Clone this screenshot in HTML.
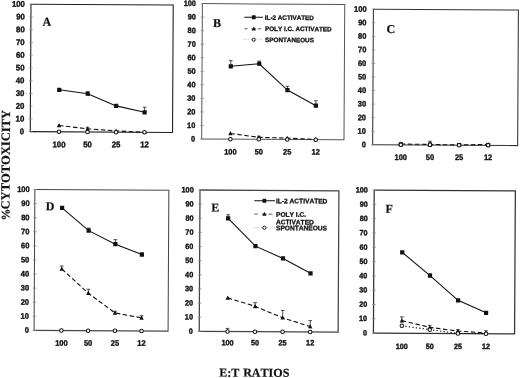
<!DOCTYPE html>
<html><head><meta charset="utf-8"><title>Figure</title>
<style>
html,body{margin:0;padding:0;background:#fff;}
body{width:520px;height:378px;overflow:hidden;}
svg{display:block;}
text{font-kerning:none;}
.tk{font-family:"Liberation Sans",sans-serif;font-weight:bold;fill:#111;stroke:#111;stroke-width:0.35px;}
.pl{font-family:"Liberation Serif",serif;font-weight:bold;font-size:12px;fill:#111;stroke:#111;stroke-width:0.2px;}
.lg{font-family:"Liberation Sans",sans-serif;font-weight:bold;fill:#111;stroke:#111;stroke-width:0.3px;}
.ax{font-family:"Liberation Serif",serif;font-weight:bold;fill:#111;stroke:#111;stroke-width:0.2px;}
</style></head><body>
<svg width="520" height="378" viewBox="0 0 520 378">
<rect width="520" height="378" fill="#fff"/>
<g transform="rotate(0.3151)">
<g id="panelA">
<rect x="31.0" y="4.1" width="142.25" height="127.40" fill="none" stroke="#222" stroke-width="1.1"/>
<line x1="29.40" y1="131.50" x2="33.20" y2="131.50" stroke="#888" stroke-width="0.7"/>
<text transform="translate(24.90 134.16) scale(1 1.06)" text-anchor="end" class="tk" font-size="7.8">0</text>
<line x1="29.40" y1="118.76" x2="33.20" y2="118.76" stroke="#888" stroke-width="0.7"/>
<text transform="translate(24.90 121.42) scale(1 1.06)" text-anchor="end" class="tk" font-size="7.8">10</text>
<line x1="29.40" y1="106.02" x2="33.20" y2="106.02" stroke="#888" stroke-width="0.7"/>
<text transform="translate(24.90 108.68) scale(1 1.06)" text-anchor="end" class="tk" font-size="7.8">20</text>
<line x1="29.40" y1="93.28" x2="33.20" y2="93.28" stroke="#888" stroke-width="0.7"/>
<text transform="translate(24.90 95.94) scale(1 1.06)" text-anchor="end" class="tk" font-size="7.8">30</text>
<line x1="29.40" y1="80.54" x2="33.20" y2="80.54" stroke="#888" stroke-width="0.7"/>
<text transform="translate(24.90 83.20) scale(1 1.06)" text-anchor="end" class="tk" font-size="7.8">40</text>
<line x1="29.40" y1="67.80" x2="33.20" y2="67.80" stroke="#888" stroke-width="0.7"/>
<text transform="translate(24.90 70.46) scale(1 1.06)" text-anchor="end" class="tk" font-size="7.8">50</text>
<line x1="29.40" y1="55.06" x2="33.20" y2="55.06" stroke="#888" stroke-width="0.7"/>
<text transform="translate(24.90 57.72) scale(1 1.06)" text-anchor="end" class="tk" font-size="7.8">60</text>
<line x1="29.40" y1="42.32" x2="33.20" y2="42.32" stroke="#888" stroke-width="0.7"/>
<text transform="translate(24.90 44.98) scale(1 1.06)" text-anchor="end" class="tk" font-size="7.8">70</text>
<line x1="29.40" y1="29.58" x2="33.20" y2="29.58" stroke="#888" stroke-width="0.7"/>
<text transform="translate(24.90 32.24) scale(1 1.06)" text-anchor="end" class="tk" font-size="7.8">80</text>
<line x1="29.40" y1="16.84" x2="33.20" y2="16.84" stroke="#888" stroke-width="0.7"/>
<text transform="translate(24.90 19.50) scale(1 1.06)" text-anchor="end" class="tk" font-size="7.8">90</text>
<line x1="29.40" y1="4.10" x2="33.20" y2="4.10" stroke="#888" stroke-width="0.7"/>
<text transform="translate(24.90 6.76) scale(1 1.06)" text-anchor="end" class="tk" font-size="7.8">100</text>
<text transform="translate(59.79 147.04) scale(1 1.06)" text-anchor="middle" class="tk" font-size="7.8">100</text>
<text transform="translate(88.29 146.88) scale(1 1.06)" text-anchor="middle" class="tk" font-size="7.8">50</text>
<text transform="translate(116.79 146.72) scale(1 1.06)" text-anchor="middle" class="tk" font-size="7.8">25</text>
<text transform="translate(145.29 146.57) scale(1 1.06)" text-anchor="middle" class="tk" font-size="7.8">12</text>
<text x="42.54" y="25.47" class="pl">A</text>
<polyline points="59.73,89.46 88.23,93.28 116.73,105.26 145.23,111.50" fill="none" stroke="#111" stroke-width="1.1"/>
<path d="M88.23 93.28V91.24M86.43 91.24H90.03" stroke="#222" stroke-width="0.8" fill="none"/>
<path d="M145.23 111.50V106.40M143.43 106.40H147.03" stroke="#222" stroke-width="0.8" fill="none"/>
<rect x="57.63" y="87.36" width="4.2" height="4.2" fill="#111"/>
<rect x="86.13" y="91.18" width="4.2" height="4.2" fill="#111"/>
<rect x="114.63" y="103.16" width="4.2" height="4.2" fill="#111"/>
<rect x="143.13" y="109.40" width="4.2" height="4.2" fill="#111"/>
<polyline points="59.73,125.13 88.23,128.31 116.73,130.23 145.23,131.50" fill="none" stroke="#111" stroke-width="1.1" stroke-dasharray="4.5 2.5"/>
<path d="M88.23 128.31V126.79M86.43 126.79H90.03" stroke="#222" stroke-width="0.8" fill="none"/>
<path d="M59.73 122.73L61.93 126.93H57.53Z" fill="#111"/>
<path d="M88.23 125.91L90.43 130.12H86.03Z" fill="#111"/>
<path d="M116.73 127.83L118.93 132.03H114.53Z" fill="#111"/>
<path d="M145.23 129.10L147.43 133.30H143.03Z" fill="#111"/>
<circle cx="59.73" cy="131.50" r="1.75" fill="#fff" stroke="#111" stroke-width="1"/>
<circle cx="88.23" cy="131.50" r="1.75" fill="#fff" stroke="#111" stroke-width="1"/>
<circle cx="116.73" cy="131.50" r="1.75" fill="#fff" stroke="#111" stroke-width="1"/>
<circle cx="145.23" cy="131.50" r="1.75" fill="#fff" stroke="#111" stroke-width="1"/>
</g>
<g id="panelB">
<rect x="202.4" y="2.5" width="142.35" height="135.40" fill="none" stroke="#555" stroke-width="1.0"/>
<line x1="200.80" y1="137.90" x2="204.60" y2="137.90" stroke="#888" stroke-width="0.7"/>
<text transform="translate(196.00 140.41) scale(1 1.06)" text-anchor="end" class="tk" font-size="7.4">0</text>
<line x1="200.80" y1="124.36" x2="204.60" y2="124.36" stroke="#888" stroke-width="0.7"/>
<text transform="translate(196.00 126.87) scale(1 1.06)" text-anchor="end" class="tk" font-size="7.4">10</text>
<line x1="200.80" y1="110.82" x2="204.60" y2="110.82" stroke="#888" stroke-width="0.7"/>
<text transform="translate(196.00 113.33) scale(1 1.06)" text-anchor="end" class="tk" font-size="7.4">20</text>
<line x1="200.80" y1="97.28" x2="204.60" y2="97.28" stroke="#888" stroke-width="0.7"/>
<text transform="translate(196.00 99.79) scale(1 1.06)" text-anchor="end" class="tk" font-size="7.4">30</text>
<line x1="200.80" y1="83.74" x2="204.60" y2="83.74" stroke="#888" stroke-width="0.7"/>
<text transform="translate(196.00 86.25) scale(1 1.06)" text-anchor="end" class="tk" font-size="7.4">40</text>
<line x1="200.80" y1="70.20" x2="204.60" y2="70.20" stroke="#888" stroke-width="0.7"/>
<text transform="translate(196.00 72.71) scale(1 1.06)" text-anchor="end" class="tk" font-size="7.4">50</text>
<line x1="200.80" y1="56.66" x2="204.60" y2="56.66" stroke="#888" stroke-width="0.7"/>
<text transform="translate(196.00 59.17) scale(1 1.06)" text-anchor="end" class="tk" font-size="7.4">60</text>
<line x1="200.80" y1="43.12" x2="204.60" y2="43.12" stroke="#888" stroke-width="0.7"/>
<text transform="translate(196.00 45.63) scale(1 1.06)" text-anchor="end" class="tk" font-size="7.4">70</text>
<line x1="200.80" y1="29.58" x2="204.60" y2="29.58" stroke="#888" stroke-width="0.7"/>
<text transform="translate(196.00 32.09) scale(1 1.06)" text-anchor="end" class="tk" font-size="7.4">80</text>
<line x1="200.80" y1="16.04" x2="204.60" y2="16.04" stroke="#888" stroke-width="0.7"/>
<text transform="translate(196.00 18.55) scale(1 1.06)" text-anchor="end" class="tk" font-size="7.4">90</text>
<line x1="200.80" y1="2.50" x2="204.60" y2="2.50" stroke="#888" stroke-width="0.7"/>
<text transform="translate(196.00 5.01) scale(1 1.06)" text-anchor="end" class="tk" font-size="7.4">100</text>
<text transform="translate(231.23 153.24) scale(1 1.06)" text-anchor="middle" class="tk" font-size="7.4">100</text>
<text transform="translate(259.63 153.09) scale(1 1.06)" text-anchor="middle" class="tk" font-size="7.4">50</text>
<text transform="translate(288.03 152.93) scale(1 1.06)" text-anchor="middle" class="tk" font-size="7.4">25</text>
<text transform="translate(316.53 152.77) scale(1 1.06)" text-anchor="middle" class="tk" font-size="7.4">12</text>
<text x="213.15" y="25.73" class="pl">B</text>
<polyline points="231.17,65.05 259.57,62.35 287.97,88.48 316.47,103.91" fill="none" stroke="#111" stroke-width="1.1"/>
<path d="M231.17 65.05V59.37M229.37 59.37H232.97" stroke="#222" stroke-width="0.8" fill="none"/>
<path d="M259.57 62.35V59.64M257.77 59.64H261.37" stroke="#222" stroke-width="0.8" fill="none"/>
<path d="M287.97 88.48V84.69M286.17 84.69H289.77" stroke="#222" stroke-width="0.8" fill="none"/>
<path d="M316.47 103.91V99.04M314.67 99.04H318.27" stroke="#222" stroke-width="0.8" fill="none"/>
<rect x="229.07" y="62.95" width="4.2" height="4.2" fill="#111"/>
<rect x="257.47" y="60.25" width="4.2" height="4.2" fill="#111"/>
<rect x="285.87" y="86.38" width="4.2" height="4.2" fill="#111"/>
<rect x="314.37" y="101.81" width="4.2" height="4.2" fill="#111"/>
<polyline points="231.17,132.21 259.57,135.87 287.97,136.55 316.47,137.63" fill="none" stroke="#111" stroke-width="1.1" stroke-dasharray="4.5 2.5"/>
<path d="M259.57 135.87V134.79M257.77 134.79H261.37" stroke="#222" stroke-width="0.8" fill="none"/>
<path d="M231.17 129.81L233.37 134.01H228.97Z" fill="#111"/>
<path d="M259.57 133.47L261.77 137.67H257.37Z" fill="#111"/>
<path d="M287.97 134.15L290.17 138.35H285.77Z" fill="#111"/>
<path d="M316.47 135.23L318.67 139.43H314.27Z" fill="#111"/>
<circle cx="231.17" cy="137.90" r="1.75" fill="#fff" stroke="#111" stroke-width="1"/>
<circle cx="259.57" cy="137.90" r="1.75" fill="#fff" stroke="#111" stroke-width="1"/>
<circle cx="287.97" cy="137.90" r="1.75" fill="#fff" stroke="#111" stroke-width="1"/>
<circle cx="316.47" cy="137.90" r="1.75" fill="#fff" stroke="#111" stroke-width="1"/>
</g>
<g id="panelC">
<rect x="373.45" y="7.15" width="145.00" height="135.60" fill="none" stroke="#333" stroke-width="1.05"/>
<line x1="371.85" y1="142.75" x2="375.65" y2="142.75" stroke="#888" stroke-width="0.7"/>
<text transform="translate(366.65 145.30) scale(1 1.06)" text-anchor="end" class="tk" font-size="7.5">0</text>
<line x1="371.85" y1="129.19" x2="375.65" y2="129.19" stroke="#888" stroke-width="0.7"/>
<text transform="translate(366.65 131.74) scale(1 1.06)" text-anchor="end" class="tk" font-size="7.5">10</text>
<line x1="371.85" y1="115.63" x2="375.65" y2="115.63" stroke="#888" stroke-width="0.7"/>
<text transform="translate(366.65 118.18) scale(1 1.06)" text-anchor="end" class="tk" font-size="7.5">20</text>
<line x1="371.85" y1="102.07" x2="375.65" y2="102.07" stroke="#888" stroke-width="0.7"/>
<text transform="translate(366.65 104.62) scale(1 1.06)" text-anchor="end" class="tk" font-size="7.5">30</text>
<line x1="371.85" y1="88.51" x2="375.65" y2="88.51" stroke="#888" stroke-width="0.7"/>
<text transform="translate(366.65 91.06) scale(1 1.06)" text-anchor="end" class="tk" font-size="7.5">40</text>
<line x1="371.85" y1="74.95" x2="375.65" y2="74.95" stroke="#888" stroke-width="0.7"/>
<text transform="translate(366.65 77.50) scale(1 1.06)" text-anchor="end" class="tk" font-size="7.5">50</text>
<line x1="371.85" y1="61.39" x2="375.65" y2="61.39" stroke="#888" stroke-width="0.7"/>
<text transform="translate(366.65 63.94) scale(1 1.06)" text-anchor="end" class="tk" font-size="7.5">60</text>
<line x1="371.85" y1="47.83" x2="375.65" y2="47.83" stroke="#888" stroke-width="0.7"/>
<text transform="translate(366.65 50.38) scale(1 1.06)" text-anchor="end" class="tk" font-size="7.5">70</text>
<line x1="371.85" y1="34.27" x2="375.65" y2="34.27" stroke="#888" stroke-width="0.7"/>
<text transform="translate(366.65 36.82) scale(1 1.06)" text-anchor="end" class="tk" font-size="7.5">80</text>
<line x1="371.85" y1="20.71" x2="375.65" y2="20.71" stroke="#888" stroke-width="0.7"/>
<text transform="translate(366.65 23.26) scale(1 1.06)" text-anchor="end" class="tk" font-size="7.5">90</text>
<line x1="371.85" y1="7.15" x2="375.65" y2="7.15" stroke="#888" stroke-width="0.7"/>
<text transform="translate(366.65 9.70) scale(1 1.06)" text-anchor="end" class="tk" font-size="7.5">100</text>
<text transform="translate(401.66 157.85) scale(1 1.06)" text-anchor="middle" class="tk" font-size="7.5">100</text>
<text transform="translate(430.86 157.68) scale(1 1.06)" text-anchor="middle" class="tk" font-size="7.5">50</text>
<text transform="translate(459.96 157.52) scale(1 1.06)" text-anchor="middle" class="tk" font-size="7.5">25</text>
<text transform="translate(488.96 157.37) scale(1 1.06)" text-anchor="middle" class="tk" font-size="7.5">12</text>
<text x="386.68" y="30.77" class="pl">C</text>
<rect x="399.50" y="139.97" width="4.2" height="4.2" fill="#111"/>
<rect x="428.70" y="140.24" width="4.2" height="4.2" fill="#111"/>
<rect x="457.80" y="140.38" width="4.2" height="4.2" fill="#111"/>
<rect x="486.80" y="140.24" width="4.2" height="4.2" fill="#111"/>
<polyline points="401.6,141.80 430.8,142.07 459.9,142.48 488.9,141.67" fill="none" stroke="#111" stroke-width="1.1" stroke-dasharray="4.5 2.5"/>
<path d="M401.6 139.40L403.80 143.60H399.40Z" fill="#111"/>
<path d="M430.8 139.67L433.00 143.87H428.60Z" fill="#111"/>
<path d="M459.9 140.08L462.10 144.28H457.70Z" fill="#111"/>
<path d="M488.9 139.27L491.10 143.47H486.70Z" fill="#111"/>
<path d="M430.8 142.48V138.95M429.00 138.95H432.60" stroke="#222" stroke-width="0.8" fill="none"/>
<circle cx="401.6" cy="142.48" r="1.75" fill="#fff" stroke="#111" stroke-width="1"/>
<circle cx="430.8" cy="142.48" r="1.75" fill="#fff" stroke="#111" stroke-width="1"/>
<circle cx="459.9" cy="142.75" r="1.75" fill="#fff" stroke="#111" stroke-width="1"/>
<circle cx="488.9" cy="142.48" r="1.75" fill="#fff" stroke="#111" stroke-width="1"/>
</g>
<g id="panelD">
<rect x="35.9" y="189.3" width="134.00" height="140.87" fill="none" stroke="#484848" stroke-width="1.05"/>
<line x1="34.30" y1="330.17" x2="38.10" y2="330.17" stroke="#888" stroke-width="0.7"/>
<text transform="translate(30.70 332.72) scale(1 1.06)" text-anchor="end" class="tk" font-size="7.5">0</text>
<line x1="34.30" y1="316.08" x2="38.10" y2="316.08" stroke="#888" stroke-width="0.7"/>
<text transform="translate(30.70 318.63) scale(1 1.06)" text-anchor="end" class="tk" font-size="7.5">10</text>
<line x1="34.30" y1="302.00" x2="38.10" y2="302.00" stroke="#888" stroke-width="0.7"/>
<text transform="translate(30.70 304.54) scale(1 1.06)" text-anchor="end" class="tk" font-size="7.5">20</text>
<line x1="34.30" y1="287.91" x2="38.10" y2="287.91" stroke="#888" stroke-width="0.7"/>
<text transform="translate(30.70 290.46) scale(1 1.06)" text-anchor="end" class="tk" font-size="7.5">30</text>
<line x1="34.30" y1="273.82" x2="38.10" y2="273.82" stroke="#888" stroke-width="0.7"/>
<text transform="translate(30.70 276.37) scale(1 1.06)" text-anchor="end" class="tk" font-size="7.5">40</text>
<line x1="34.30" y1="259.74" x2="38.10" y2="259.74" stroke="#888" stroke-width="0.7"/>
<text transform="translate(30.70 262.28) scale(1 1.06)" text-anchor="end" class="tk" font-size="7.5">50</text>
<line x1="34.30" y1="245.65" x2="38.10" y2="245.65" stroke="#888" stroke-width="0.7"/>
<text transform="translate(30.70 248.19) scale(1 1.06)" text-anchor="end" class="tk" font-size="7.5">60</text>
<line x1="34.30" y1="231.56" x2="38.10" y2="231.56" stroke="#888" stroke-width="0.7"/>
<text transform="translate(30.70 234.11) scale(1 1.06)" text-anchor="end" class="tk" font-size="7.5">70</text>
<line x1="34.30" y1="217.47" x2="38.10" y2="217.47" stroke="#888" stroke-width="0.7"/>
<text transform="translate(30.70 220.02) scale(1 1.06)" text-anchor="end" class="tk" font-size="7.5">80</text>
<line x1="34.30" y1="203.39" x2="38.10" y2="203.39" stroke="#888" stroke-width="0.7"/>
<text transform="translate(30.70 205.93) scale(1 1.06)" text-anchor="end" class="tk" font-size="7.5">90</text>
<line x1="34.30" y1="189.30" x2="38.10" y2="189.30" stroke="#888" stroke-width="0.7"/>
<text transform="translate(30.70 191.85) scale(1 1.06)" text-anchor="end" class="tk" font-size="7.5">100</text>
<text transform="translate(63.29 345.51) scale(1 1.06)" text-anchor="middle" class="tk" font-size="7.5">100</text>
<text transform="translate(89.99 345.37) scale(1 1.06)" text-anchor="middle" class="tk" font-size="7.5">50</text>
<text transform="translate(116.79 345.22) scale(1 1.06)" text-anchor="middle" class="tk" font-size="7.5">25</text>
<text transform="translate(143.39 345.07) scale(1 1.06)" text-anchor="middle" class="tk" font-size="7.5">12</text>
<text x="46.96" y="210.05" class="pl">D</text>
<polyline points="63.22,207.61 89.92,230.15 116.72,243.53 143.32,253.82" fill="none" stroke="#111" stroke-width="1.1"/>
<path d="M89.92 230.15V227.62M88.12 227.62H91.72" stroke="#222" stroke-width="0.8" fill="none"/>
<path d="M116.72 243.53V239.03M114.92 239.03H118.52" stroke="#222" stroke-width="0.8" fill="none"/>
<path d="M143.32 253.82V252.13M141.52 252.13H145.12" stroke="#222" stroke-width="0.8" fill="none"/>
<rect x="61.12" y="205.51" width="4.2" height="4.2" fill="#111"/>
<rect x="87.82" y="228.05" width="4.2" height="4.2" fill="#111"/>
<rect x="114.62" y="241.43" width="4.2" height="4.2" fill="#111"/>
<rect x="141.22" y="251.72" width="4.2" height="4.2" fill="#111"/>
<polyline points="63.22,268.61 89.92,292.70 116.72,312.28 143.32,317.07" fill="none" stroke="#111" stroke-width="1.1" stroke-dasharray="4.5 2.5"/>
<path d="M63.22 268.61V265.65M61.42 265.65H65.02" stroke="#222" stroke-width="0.8" fill="none"/>
<path d="M89.92 292.70V288.75M88.12 288.75H91.72" stroke="#222" stroke-width="0.8" fill="none"/>
<path d="M116.72 312.28V310.59M114.92 310.59H118.52" stroke="#222" stroke-width="0.8" fill="none"/>
<path d="M143.32 317.07V314.96M141.52 314.96H145.12" stroke="#222" stroke-width="0.8" fill="none"/>
<path d="M63.22 266.21L65.42 270.41H61.02Z" fill="#111"/>
<path d="M89.92 290.30L92.12 294.50H87.72Z" fill="#111"/>
<path d="M116.72 309.88L118.92 314.08H114.52Z" fill="#111"/>
<path d="M143.32 314.67L145.52 318.87H141.12Z" fill="#111"/>
<circle cx="63.22" cy="330.17" r="1.75" fill="#fff" stroke="#111" stroke-width="1"/>
<circle cx="89.92" cy="330.17" r="1.75" fill="#fff" stroke="#111" stroke-width="1"/>
<circle cx="116.72" cy="330.17" r="1.75" fill="#fff" stroke="#111" stroke-width="1"/>
<circle cx="143.32" cy="330.17" r="1.75" fill="#fff" stroke="#111" stroke-width="1"/>
</g>
<g id="panelE">
<rect x="201.05" y="188.9" width="138.90" height="141.34" fill="none" stroke="#444" stroke-width="1.25"/>
<line x1="199.45" y1="330.24" x2="203.25" y2="330.24" stroke="#888" stroke-width="0.7"/>
<text transform="translate(194.75 332.71) scale(1 1.06)" text-anchor="end" class="tk" font-size="7.3">0</text>
<line x1="199.45" y1="316.11" x2="203.25" y2="316.11" stroke="#888" stroke-width="0.7"/>
<text transform="translate(194.75 318.58) scale(1 1.06)" text-anchor="end" class="tk" font-size="7.3">10</text>
<line x1="199.45" y1="301.97" x2="203.25" y2="301.97" stroke="#888" stroke-width="0.7"/>
<text transform="translate(194.75 304.44) scale(1 1.06)" text-anchor="end" class="tk" font-size="7.3">20</text>
<line x1="199.45" y1="287.84" x2="203.25" y2="287.84" stroke="#888" stroke-width="0.7"/>
<text transform="translate(194.75 290.31) scale(1 1.06)" text-anchor="end" class="tk" font-size="7.3">30</text>
<line x1="199.45" y1="273.70" x2="203.25" y2="273.70" stroke="#888" stroke-width="0.7"/>
<text transform="translate(194.75 276.17) scale(1 1.06)" text-anchor="end" class="tk" font-size="7.3">40</text>
<line x1="199.45" y1="259.57" x2="203.25" y2="259.57" stroke="#888" stroke-width="0.7"/>
<text transform="translate(194.75 262.04) scale(1 1.06)" text-anchor="end" class="tk" font-size="7.3">50</text>
<line x1="199.45" y1="245.44" x2="203.25" y2="245.44" stroke="#888" stroke-width="0.7"/>
<text transform="translate(194.75 247.91) scale(1 1.06)" text-anchor="end" class="tk" font-size="7.3">60</text>
<line x1="199.45" y1="231.30" x2="203.25" y2="231.30" stroke="#888" stroke-width="0.7"/>
<text transform="translate(194.75 233.77) scale(1 1.06)" text-anchor="end" class="tk" font-size="7.3">70</text>
<line x1="199.45" y1="217.17" x2="203.25" y2="217.17" stroke="#888" stroke-width="0.7"/>
<text transform="translate(194.75 219.64) scale(1 1.06)" text-anchor="end" class="tk" font-size="7.3">80</text>
<line x1="199.45" y1="203.03" x2="203.25" y2="203.03" stroke="#888" stroke-width="0.7"/>
<text transform="translate(194.75 205.50) scale(1 1.06)" text-anchor="end" class="tk" font-size="7.3">90</text>
<line x1="199.45" y1="188.90" x2="203.25" y2="188.90" stroke="#888" stroke-width="0.7"/>
<text transform="translate(194.75 191.37) scale(1 1.06)" text-anchor="end" class="tk" font-size="7.3">100</text>
<text transform="translate(229.38 344.12) scale(1 1.06)" text-anchor="middle" class="tk" font-size="7.3">100</text>
<text transform="translate(256.88 343.97) scale(1 1.06)" text-anchor="middle" class="tk" font-size="7.3">50</text>
<text transform="translate(284.48 343.82) scale(1 1.06)" text-anchor="middle" class="tk" font-size="7.3">25</text>
<text transform="translate(312.08 343.66) scale(1 1.06)" text-anchor="middle" class="tk" font-size="7.3">12</text>
<text x="212.36" y="210.34" class="pl">E</text>
<polyline points="229.32,217.17 256.82,244.73 284.42,256.88 312.02,271.58" fill="none" stroke="#111" stroke-width="1.1"/>
<path d="M229.32 217.17V213.49M227.52 213.49H231.12" stroke="#222" stroke-width="0.8" fill="none"/>
<rect x="227.22" y="215.07" width="4.2" height="4.2" fill="#111"/>
<rect x="254.72" y="242.63" width="4.2" height="4.2" fill="#111"/>
<rect x="282.32" y="254.78" width="4.2" height="4.2" fill="#111"/>
<rect x="309.92" y="269.48" width="4.2" height="4.2" fill="#111"/>
<polyline points="229.32,296.60 256.82,304.94 284.42,316.25 312.02,324.87" fill="none" stroke="#111" stroke-width="1.1" stroke-dasharray="4.5 2.5"/>
<path d="M256.82 304.94V301.27M255.02 301.27H258.62" stroke="#222" stroke-width="0.8" fill="none"/>
<path d="M284.42 316.25V308.90M282.62 308.90H286.22" stroke="#222" stroke-width="0.8" fill="none"/>
<path d="M312.02 324.87V318.93M310.22 318.93H313.82" stroke="#222" stroke-width="0.8" fill="none"/>
<path d="M229.32 294.20L231.52 298.40H227.12Z" fill="#111"/>
<path d="M256.82 302.54L259.02 306.74H254.62Z" fill="#111"/>
<path d="M284.42 313.85L286.62 318.05H282.22Z" fill="#111"/>
<path d="M312.02 322.47L314.22 326.67H309.82Z" fill="#111"/>
<path d="M229.32 330.24V327.13M227.52 327.13H231.12" stroke="#222" stroke-width="0.8" fill="none"/>
<circle cx="229.32" cy="330.24" r="1.75" fill="#fff" stroke="#111" stroke-width="1"/>
<circle cx="256.82" cy="330.24" r="1.75" fill="#fff" stroke="#111" stroke-width="1"/>
<circle cx="284.42" cy="330.24" r="1.75" fill="#fff" stroke="#111" stroke-width="1"/>
<circle cx="312.02" cy="330.24" r="1.75" fill="#fff" stroke="#111" stroke-width="1"/>
</g>
<g id="panelF">
<rect x="375.25" y="188.1" width="141.15" height="142.87" fill="none" stroke="#333" stroke-width="1.25"/>
<line x1="373.65" y1="330.97" x2="377.45" y2="330.97" stroke="#888" stroke-width="0.7"/>
<text transform="translate(368.85 333.40) scale(1 1.06)" text-anchor="end" class="tk" font-size="7.2">0</text>
<line x1="373.65" y1="316.68" x2="377.45" y2="316.68" stroke="#888" stroke-width="0.7"/>
<text transform="translate(368.85 319.12) scale(1 1.06)" text-anchor="end" class="tk" font-size="7.2">10</text>
<line x1="373.65" y1="302.40" x2="377.45" y2="302.40" stroke="#888" stroke-width="0.7"/>
<text transform="translate(368.85 304.83) scale(1 1.06)" text-anchor="end" class="tk" font-size="7.2">20</text>
<line x1="373.65" y1="288.11" x2="377.45" y2="288.11" stroke="#888" stroke-width="0.7"/>
<text transform="translate(368.85 290.54) scale(1 1.06)" text-anchor="end" class="tk" font-size="7.2">30</text>
<line x1="373.65" y1="273.82" x2="377.45" y2="273.82" stroke="#888" stroke-width="0.7"/>
<text transform="translate(368.85 276.25) scale(1 1.06)" text-anchor="end" class="tk" font-size="7.2">40</text>
<line x1="373.65" y1="259.54" x2="377.45" y2="259.54" stroke="#888" stroke-width="0.7"/>
<text transform="translate(368.85 261.97) scale(1 1.06)" text-anchor="end" class="tk" font-size="7.2">50</text>
<line x1="373.65" y1="245.25" x2="377.45" y2="245.25" stroke="#888" stroke-width="0.7"/>
<text transform="translate(368.85 247.68) scale(1 1.06)" text-anchor="end" class="tk" font-size="7.2">60</text>
<line x1="373.65" y1="230.96" x2="377.45" y2="230.96" stroke="#888" stroke-width="0.7"/>
<text transform="translate(368.85 233.39) scale(1 1.06)" text-anchor="end" class="tk" font-size="7.2">70</text>
<line x1="373.65" y1="216.67" x2="377.45" y2="216.67" stroke="#888" stroke-width="0.7"/>
<text transform="translate(368.85 219.11) scale(1 1.06)" text-anchor="end" class="tk" font-size="7.2">80</text>
<line x1="373.65" y1="202.39" x2="377.45" y2="202.39" stroke="#888" stroke-width="0.7"/>
<text transform="translate(368.85 204.82) scale(1 1.06)" text-anchor="end" class="tk" font-size="7.2">90</text>
<line x1="373.65" y1="188.10" x2="377.45" y2="188.10" stroke="#888" stroke-width="0.7"/>
<text transform="translate(368.85 190.53) scale(1 1.06)" text-anchor="end" class="tk" font-size="7.2">100</text>
<text transform="translate(403.70 346.82) scale(1 1.06)" text-anchor="middle" class="tk" font-size="7.2">100</text>
<text transform="translate(431.60 346.67) scale(1 1.06)" text-anchor="middle" class="tk" font-size="7.2">50</text>
<text transform="translate(459.80 346.51) scale(1 1.06)" text-anchor="middle" class="tk" font-size="7.2">25</text>
<text transform="translate(487.90 346.36) scale(1 1.06)" text-anchor="middle" class="tk" font-size="7.2">12</text>
<text x="386.57" y="210.58" class="pl">F</text>
<polyline points="403.63,250.11 431.53,273.25 459.73,297.82 487.83,310.11" fill="none" stroke="#111" stroke-width="1.1"/>
<path d="M431.53 273.25V271.54M429.73 271.54H433.33" stroke="#222" stroke-width="0.8" fill="none"/>
<rect x="401.53" y="248.01" width="4.2" height="4.2" fill="#111"/>
<rect x="429.43" y="271.15" width="4.2" height="4.2" fill="#111"/>
<rect x="457.63" y="295.72" width="4.2" height="4.2" fill="#111"/>
<rect x="485.73" y="308.01" width="4.2" height="4.2" fill="#111"/>
<polyline points="403.63,318.40 431.53,324.97 459.73,328.54 487.83,330.26" fill="none" stroke="#111" stroke-width="1.1" stroke-dasharray="4.5 2.5"/>
<path d="M403.63 318.40V314.68M401.83 314.68H405.43" stroke="#222" stroke-width="0.8" fill="none"/>
<path d="M431.53 324.97V322.97M429.73 322.97H433.33" stroke="#222" stroke-width="0.8" fill="none"/>
<path d="M459.73 328.54V327.11M457.93 327.11H461.53" stroke="#222" stroke-width="0.8" fill="none"/>
<path d="M487.83 330.26V328.11M486.03 328.11H489.63" stroke="#222" stroke-width="0.8" fill="none"/>
<path d="M403.63 316.00L405.83 320.20H401.43Z" fill="#111"/>
<path d="M431.53 322.57L433.73 326.77H429.33Z" fill="#111"/>
<path d="M459.73 326.14L461.93 330.34H457.53Z" fill="#111"/>
<path d="M487.83 327.86L490.03 332.06H485.63Z" fill="#111"/>
<polyline points="403.63,323.54 431.53,327.26 459.73,330.97 487.83,330.97" fill="none" stroke="#111" stroke-width="1.1" stroke-dasharray="1.3 2.2"/>
<circle cx="403.63" cy="323.54" r="1.75" fill="#fff" stroke="#111" stroke-width="1"/>
<circle cx="431.53" cy="327.26" r="1.75" fill="#fff" stroke="#111" stroke-width="1"/>
<circle cx="459.73" cy="330.97" r="1.75" fill="#fff" stroke="#111" stroke-width="1"/>
<circle cx="487.83" cy="330.97" r="1.75" fill="#fff" stroke="#111" stroke-width="1"/>
</g>
<line x1="244.49" y1="15.86" x2="263.09" y2="15.86" stroke="#111" stroke-width="1.1"/>
<rect x="251.99" y="13.96" width="3.8" height="3.8" rx="0.5" fill="#111"/>
<line x1="244.56" y1="27.40" x2="247.76" y2="27.40" stroke="#333" stroke-width="0.8"/>
<line x1="251.46" y1="27.40" x2="256.16" y2="27.40" stroke="#333" stroke-width="0.8"/>
<line x1="258.06" y1="27.40" x2="261.56" y2="27.40" stroke="#333" stroke-width="0.8"/>
<path d="M253.96 25.10L256.06 29.00H251.86Z" fill="#111"/>
<line x1="244.62" y1="38.30" x2="263.22" y2="38.30" stroke="#999" stroke-width="0.9" stroke-dasharray="1 2.2"/>
<circle cx="254.02" cy="38.30" r="1.6" fill="#fff" stroke="#111" stroke-width="0.95"/>
<text x="264.90" y="18.21" class="lg" font-size="6.32">IL-2 ACTIVATED</text>
<text x="265.16" y="29.41" class="lg" font-size="6.32">POLY I.C. ACTIVATED</text>
<text x="265.32" y="40.50" class="lg" font-size="6.32">SPONTANEOUS</text>
<line x1="255.40" y1="199.30" x2="276.10" y2="199.30" stroke="#111" stroke-width="1.1"/>
<rect x="263.60" y="197.40" width="3.8" height="3.8" rx="0.5" fill="#111"/>
<line x1="255.48" y1="212.65" x2="258.98" y2="212.65" stroke="#333" stroke-width="0.8"/>
<line x1="263.18" y1="212.65" x2="267.98" y2="212.65" stroke="#333" stroke-width="0.8"/>
<line x1="269.68" y1="212.65" x2="273.68" y2="212.65" stroke="#333" stroke-width="0.8"/>
<path d="M265.58 210.35L267.68 214.25H263.48Z" fill="#111"/>
<line x1="255.55" y1="226.35" x2="276.25" y2="226.35" stroke="#999" stroke-width="0.9" stroke-dasharray="1 2.2"/>
<circle cx="265.65" cy="226.35" r="1.6" fill="#fff" stroke="#111" stroke-width="0.95"/>
<text x="277.10" y="201.65" class="lg" font-size="6.62">IL-2 ACTIVATED</text>
<text x="277.18" y="215.15" class="lg" font-size="6.62">POLY I.C.</text>
<text x="277.22" y="222.75" class="lg" font-size="6.62">ACTIVATED</text>
<text x="277.25" y="228.65" class="lg" font-size="6.62">SPONTANEOUS</text>
<text transform="translate(10.71 220.35) rotate(-90)" class="ax" font-size="11.8">%</text>
<text transform="translate(10.65 209.35) rotate(-90)" class="ax" font-size="12.5">CYTOTOXICITY</text>
<text x="221.27" y="375.39" class="ax" font-size="12.05">E:T</text>
<text x="245.22" y="375.26" class="ax" font-size="12.05">RATIOS</text>
</g>
</svg>
</body></html>
